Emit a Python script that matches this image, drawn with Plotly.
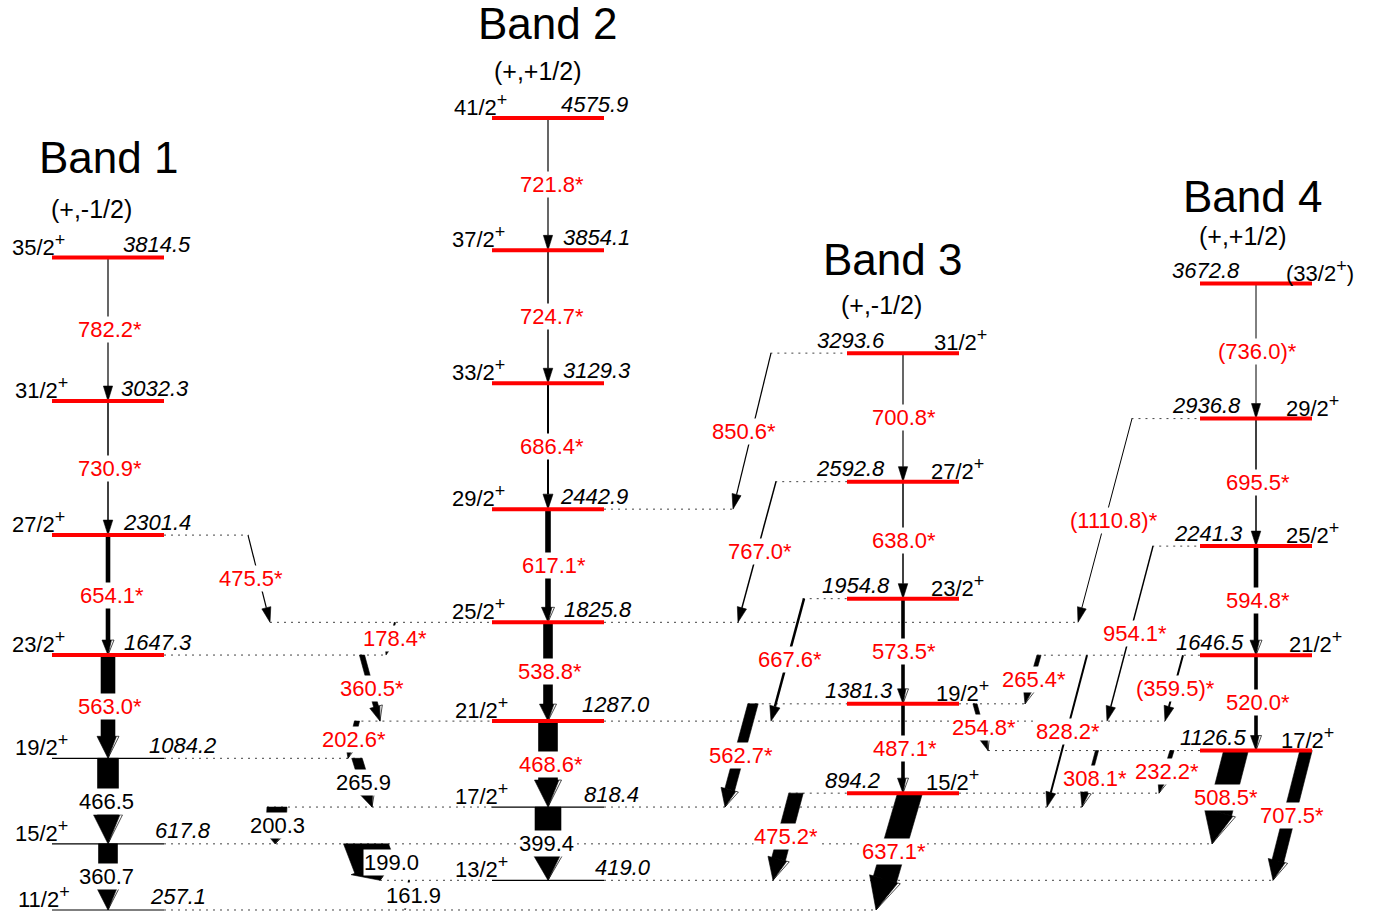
import math
import plotly.graph_objects as go

# ---------------- data ----------------
band1_energy = [257.1, 617.8, 1084.2, 1647.3, 2301.4, 3032.3, 3814.5]
band1_spin = ["11/2", "15/2", "19/2", "23/2", "27/2", "31/2", "35/2"]
band1_new = [False, False, False, True, True, True, True]

band2_energy = [419.0, 818.4, 1287.0, 1825.8, 2442.9, 3129.3, 3854.1, 4575.9]
band2_spin = ["13/2", "17/2", "21/2", "25/2", "29/2", "33/2", "37/2", "41/2"]
band2_new = [False, False, True, True, True, True, True, True]

band3_energy = [894.2, 1381.3, 1954.8, 2592.8, 3293.6]
band3_spin = ["15/2", "19/2", "23/2", "27/2", "31/2"]
band3_new = [True, True, True, True, True]

band4_energy = [1126.5, 1646.5, 2241.3, 2936.8, 3672.8]
band4_spin = ["17/2", "21/2", "25/2", "29/2", "(33/2)"]
band4_new = [True, True, True, True, True]

band_names = ["Band 1", "Band 2", "Band 3", "Band 4"]
band_config = ["(+,-1/2)", "(+,+1/2)", "(+,-1/2)", "(+,+1/2)"]

gamma_from = [3814.5, 3032.3, 2301.4, 1647.3, 1084.2, 617.8,
              4575.9, 3854.1, 3129.3, 2442.9, 1825.8, 1287.0, 818.4,
              3293.6, 2592.8, 1954.8, 1381.3, 894.2,
              3672.8, 2936.8, 2241.3, 1646.5, 1126.5, 1126.5,
              2301.4, 1825.8, 1647.3, 1287.0, 1084.2, 818.4, 617.8, 419.0,
              3293.6, 2592.8, 1954.8, 1381.3, 894.2, 1381.3,
              2936.8, 2241.3, 1646.5, 1646.5, 1646.5, 1126.5, 1126.5]
gamma_to = [3032.3, 2301.4, 1647.3, 1084.2, 617.8, 257.1,
            3854.1, 3129.3, 2442.9, 1825.8, 1287.0, 818.4, 419.0,
            2592.8, 1954.8, 1381.3, 894.2, 257.1,
            2936.8, 2241.3, 1646.5, 1126.5, 617.8, 419.0,
            1825.8, 1647.3, 1287.0, 1084.2, 818.4, 617.8, 419.0, 257.1,
            2442.9, 1825.8, 1287.0, 818.4, 419.0, 1126.5,
            1825.8, 1287.0, 1381.3, 818.4, 1287.0, 818.4, 894.2]
gamma_energy = [782.2, 730.9, 654.1, 563.0, 466.5, 360.7,
                721.8, 724.7, 686.4, 617.1, 538.8, 468.6, 399.4,
                700.8, 638.0, 573.5, 487.1, 637.1,
                736.0, 695.5, 594.8, 520.0, 508.5, 707.5,
                475.5, 178.4, 360.5, 202.6, 265.9, 200.3, 199.0, 161.9,
                850.6, 767.0, 667.6, 562.7, 475.2, 254.8,
                1110.8, 954.1, 265.4, 828.2, 359.5, 308.1, 232.2]
gamma_known = [466.5, 360.7, 399.4, 265.9, 200.3, 199.0, 161.9]
gamma_tentative = [736.0, 1110.8, 359.5]
gamma_intensity = [1.2, 1.5, 4, 14, 21, 19,
                   1.2, 1.5, 2, 5, 9, 19, 26,
                   1.2, 1.5, 3, 3, 24,
                   1, 1.5, 4, 3, 24, 12,
                   1.2, 2, 5, 5, 10, 20, 42, 2,
                   1.2, 1.5, 2.5, 10, 14, 4,
                   1, 1.5, 4, 2, 2, 3, 4]

# ---------------- layout (positions / styles) ----------------
E_BOT, E_TOP = 240.7, 5219.3
W, H = 1376, 913
K = H / (E_TOP - E_BOT)          # px per keV
FONT = "Liberation Sans, Arial, Helvetica, sans-serif"
band_x = [108, 548, 903, 1256]
band_half = 56
title_pos = [(108, 157), (547, 23), (892, 259), (1252, 196)]
config_pos = [(91, 209), (538, 71), (881, 305), (1243, 236)]

spin_x = [[44, 41, 41, 38, 38, 41, 38],
          [481, 481, 481, 478, 478, 478, 478, 480],
          [952, 962, 957, 957, 960],
          [1307, 1315, 1312, 1312, 1320]]
elab_x = [[178, 183, 182, 158, 157, 155, 157],
          [623, 611, 616, 598, 594, 597, 596, 594],
          [852, 859, 856, 850, 851],
          [1213, 1210, 1208, 1206, 1206]]
elab_lift = [[13] * 7, [13, 13, 17, 13, 13, 13, 13, 13], [13] * 5, [13] * 5]

x_top = [108] * 6 + [548] * 7 + [903] * 4 + [910] + [1256] * 4 + [1236, 1306] + \
        [248, 395, 362, 357, 357, 277, 366, 409] + [771, 776, 804, 753, 796, 975] + \
        [1132, 1153, 1039, 1087, 1183, 1097, 1172]
x_tip = [108] * 6 + [548] * 7 + [903] * 4 + [876] + [1256] * 4 + [1212, 1273] + \
        [270, 386, 380, 348, 372, 275, 380, 405] + [733, 738, 771, 725, 773, 988] + \
        [1078, 1107, 1025, 1047, 1165, 1082, 1159]
label_dx = [2, 2, 4, 2, -2, -2, 4, 4, 4, 6, 2, 3, -2, 1, 1, 1, 2, 1,
            1, 2, 2, 2, 2, 2, -8, 4, 1, 1, -1, 1, 18, 6,
            -8, 3, 2, 2, 1, 2, 9, 5, 2, 1, 1, 5, 1]

SUP = '<sup><span style="font-size:18px">+</span></sup>'


def to_px(e):
    return (e - E_BOT) * K


def to_e(y):
    return E_BOT + y / K


bands = [(band1_energy, band1_spin, band1_new),
         (band2_energy, band2_spin, band2_new),
         (band3_energy, band3_spin, band3_new),
         (band4_energy, band4_spin, band4_new)]

fig = go.Figure()
shapes = []
annotations = []

# ---------- arrows ----------
black_x, black_y = [], []
open_x, open_y = [], []
thin = []
top_half = []
for i in range(len(gamma_energy)):
    xt, xb = x_top[i], x_tip[i]
    yt, yb = to_px(gamma_from[i]), to_px(gamma_to[i])
    w = gamma_intensity[i]
    dx, dy = xb - xt, yb - yt
    L = math.hypot(dx, dy)
    ux, uy = dx / L, dy / L
    nx, ny = -uy, ux
    hw = max(8, w + 8)
    hl = min(max(15, hw), 0.4 * L)
    bx, by = xb - ux * hl, yb - uy * hl
    hx = w / 2 / abs(uy)
    top_half.append(hx)
    if w < 2.6:
        thin.append(([xt, bx], [to_e(yt), to_e(by)], w))
    else:
        pts = [(xt - hx, yt), (xt + hx, yt), (bx + nx * w / 2, by + ny * w / 2),
               (bx - nx * w / 2, by - ny * w / 2), (xt - hx, yt)]
        for px, py in pts:
            black_x.append(px)
            black_y.append(to_e(py))
        black_x.append(None)
        black_y.append(None)
    split = w / 2 + 0.35 * (hw - w) / 2 if w >= 2.9 else hw / 2
    head = [(bx - nx * hw / 2, by - ny * hw / 2), (xb, yb),
            (bx + nx * split, by + ny * split), (bx - nx * hw / 2, by - ny * hw / 2)]
    for px, py in head:
        black_x.append(px)
        black_y.append(to_e(py))
    black_x.append(None)
    black_y.append(None)
    if w >= 2.9:
        op = [(bx + nx * split, by + ny * split), (bx + nx * hw / 2, by + ny * hw / 2),
              (xb, yb), (bx + nx * split, by + ny * split)]
        for px, py in op:
            open_x.append(px)
            open_y.append(to_e(py))
        open_x.append(None)
        open_y.append(None)

for xs, ys, w in thin:
    fig.add_trace(go.Scatter(x=xs, y=ys, mode="lines",
                             line=dict(color="black", width=w),
                             hoverinfo="skip", showlegend=False))
fig.add_trace(go.Scatter(x=black_x, y=black_y, mode="lines", fill="toself",
                         fillcolor="black", line=dict(color="black", width=0.6),
                         hoverinfo="skip", showlegend=False))
fig.add_trace(go.Scatter(x=open_x, y=open_y, mode="lines", fill="toself",
                         fillcolor="white", line=dict(color="black", width=0.7),
                         hoverinfo="skip", showlegend=False))

# ---------- dotted connection lines ----------
for b, (energies, spins, new) in enumerate(bands):
    x0, x1 = band_x[b] - band_half, band_x[b] + band_half
    for e in energies:
        xs = [x0, x1]
        for i in range(len(gamma_energy)):
            if abs(gamma_from[i] - e) < 0.05:
                xs += [x_top[i] - top_half[i], x_top[i] + top_half[i]]
            if abs(gamma_to[i] - e) < 0.05:
                xs.append(x_tip[i])
        lo, hi = min(xs), max(xs)
        for a, c in ((lo, x0), (x1, hi)):
            if c - a > 2:
                shapes.append(dict(type="line", xref="x", yref="y", x0=a, x1=c,
                                   y0=e, y1=e, layer="below",
                                   line=dict(color="#444", width=1, dash="2px,5px")))

# ---------- levels and level labels ----------
for b, (energies, spins, new) in enumerate(bands):
    x0, x1 = band_x[b] - band_half, band_x[b] + band_half
    for j, e in enumerate(energies):
        shapes.append(dict(type="line", xref="x", yref="y", x0=x0, x1=x1, y0=e, y1=e,
                           layer="above",
                           line=dict(color="#ff0000" if new[j] else "black",
                                     width=4 if new[j] else 1.2)))
        s = spins[j]
        if s.startswith("("):
            stxt = "(" + s[1:-1] + SUP + ")"
        else:
            stxt = s + SUP
        annotations.append(dict(x=spin_x[b][j], y=e, xref="x", yref="y", text=stxt,
                                showarrow=False, yshift=13, xanchor="center",
                                yanchor="middle",
                                font=dict(family=FONT, size=22, color="black")))
        annotations.append(dict(x=elab_x[b][j], y=e, xref="x", yref="y",
                                text="<i>%.1f</i>" % e, showarrow=False,
                                yshift=elab_lift[b][j],
                                xanchor="center", yanchor="middle",
                                font=dict(family=FONT, size=22, color="black")))

# ---------- gamma labels ----------
for i, eg in enumerate(gamma_energy):
    txt = "%.1f" % eg
    if eg in gamma_tentative:
        txt = "(" + txt + ")"
    known = eg in gamma_known
    if not known:
        txt += "*"
    xm = (x_top[i] + x_tip[i]) / 2
    em = (gamma_from[i] + gamma_to[i]) / 2
    annotations.append(dict(x=xm, y=em, xref="x", yref="y", text=txt,
                            showarrow=False, xshift=label_dx[i],
                            xanchor="center", yanchor="middle",
                            bgcolor="white", borderpad=0,
                            font=dict(family=FONT, size=22,
                                      color="black" if known else "#ff0000")))

# ---------- band titles ----------
for b in range(4):
    tx, ty = title_pos[b]
    annotations.append(dict(x=tx, y=to_e(H - ty), xref="x", yref="y", text=band_names[b],
                            showarrow=False, xanchor="center", yanchor="middle",
                            font=dict(family=FONT, size=44, color="black")))
    cx, cy = config_pos[b]
    annotations.append(dict(x=cx, y=to_e(H - cy), xref="x", yref="y", text=band_config[b],
                            showarrow=False, xanchor="center", yanchor="middle",
                            font=dict(family=FONT, size=25, color="black")))

fig.update_layout(
    width=W, height=H,
    margin=dict(l=0, r=0, t=0, b=0),
    paper_bgcolor="white", plot_bgcolor="white",
    showlegend=False,
    xaxis=dict(range=[0, W], visible=False, fixedrange=True),
    yaxis=dict(range=[E_BOT, E_TOP], visible=False, fixedrange=True),
    shapes=shapes,
    annotations=annotations,
)

fig.write_html("out.html")
